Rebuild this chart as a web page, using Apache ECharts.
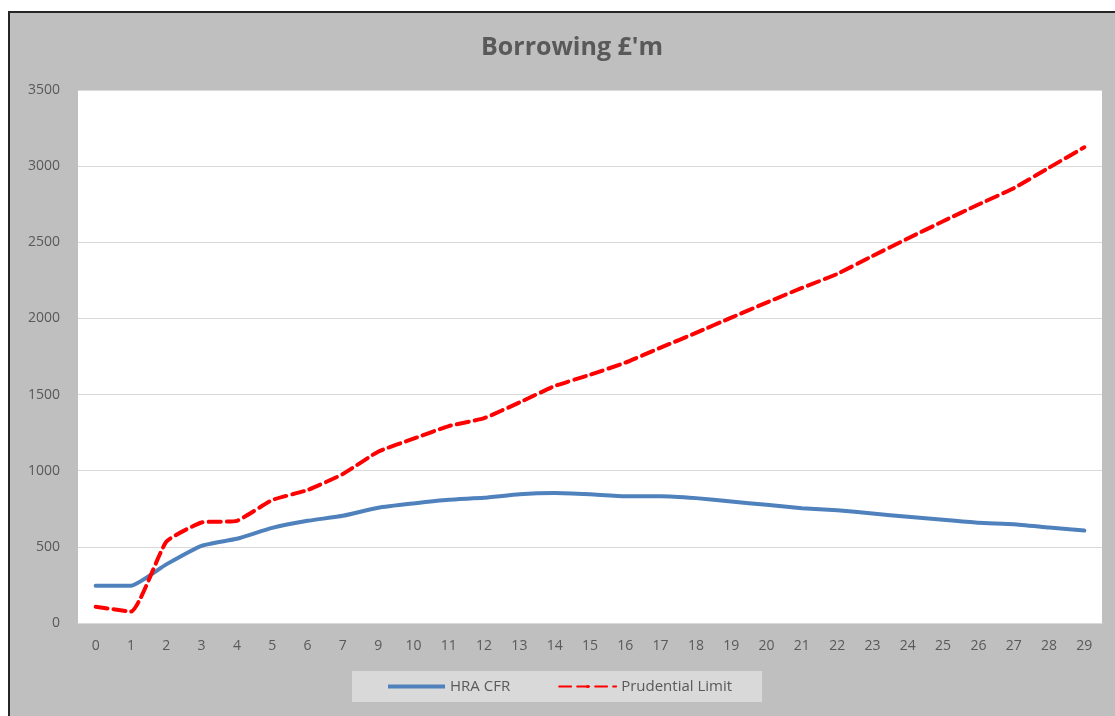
<!DOCTYPE html>
<html>
<head>
<meta charset="utf-8">
<script src="https://cdn.jsdelivr.net/npm/echarts@6/dist/echarts.min.js"></script>
<style>
html,body{margin:0;padding:0;background:#fff;}
#c{width:1115px;height:716px;}
</style>
</head>
<body>
<div id="c"></div>
<script>
const categories = ['0','1','2','3','4','5','6','7','9','10','11','12','13','14','15','16','17','18','19','20','21','22','23','24','25','26','27','28','29'];
const hraCFR = [245,245,385,507,553,625,671,704,757,785,809,822,845,853,845,833,833,820,798,776,754,741,719,697,678,658,649,627,607];
const prudentialLimit = [107,75,533,660,671,807,873,978,1125,1210,1293,1345,1448,1556,1630,1710,1808,1905,2005,2104,2200,2292,2410,2525,2638,2748,2855,2990,3124];
const yTicks = {min:0, max:3500, interval:500};

const font = '"Open Sans", "Liberation Sans", sans-serif';
const chart = echarts.init(document.getElementById('c'), null, {renderer:'canvas'});
chart.setOption({
  backgroundColor:'#ffffff',
  animation:false,
  graphic:[{
    type:'rect', z:-10, silent:true,
    shape:{x:9, y:12, width:1120, height:720},
    style:{fill:'#bfbfbf', stroke:'#262626', lineWidth:2}
  }],
  title:{
    text:"Borrowing £'m", left:476, top:30,
    textStyle:{fontFamily:font, fontSize:25, fontWeight:'bold', color:'#595959'}
  },
  legend:{
    bottom:14, left:352,
    backgroundColor:'#d9d9d9', padding:[8,30,8,36],
    itemWidth:57, itemHeight:4, itemGap:48,
    textStyle:{fontFamily:font, fontSize:15, color:'#595959'},
    data:[
      {name:'HRA CFR', icon:'rect'},
      {name:'Prudential Limit'}
    ]
  },
  grid:{left:78, right:13, top:90, bottom:93, show:true, backgroundColor:'#ffffff', borderWidth:0},
  xAxis:{
    type:'category', data:categories, boundaryGap:true,
    axisLine:{show:true, lineStyle:{color:'#d9d9d9', width:1}},
    axisTick:{show:false},
    axisLabel:{interval:0, margin:16, fontFamily:font, fontSize:14, color:'#595959'}
  },
  yAxis:{
    type:'value', min:yTicks.min, max:yTicks.max, interval:yTicks.interval,
    axisLine:{show:false}, axisTick:{show:false},
    splitLine:{lineStyle:{color:'#d9d9d9', width:1}},
    axisLabel:{margin:18, fontFamily:font, fontSize:14, color:'#595959', formatter:function(v){return String(v);}}
  },
  series:[
    {name:'HRA CFR', type:'line', data:hraCFR, showSymbol:false, symbol:'none',
     smooth:0.15,
     lineStyle:{color:'#4f81bd', width:4, cap:'round', join:'round'},
     itemStyle:{color:'#4f81bd'}},
    {name:'Prudential Limit', type:'line', data:prudentialLimit, showSymbol:false, symbol:'none',
     smooth:0.15,
     lineStyle:{color:'#ff0000', width:4, type:[12,6], cap:'round', join:'round'},
     itemStyle:{color:'#ff0000'}}
  ]
});
</script>
</body>
</html>
